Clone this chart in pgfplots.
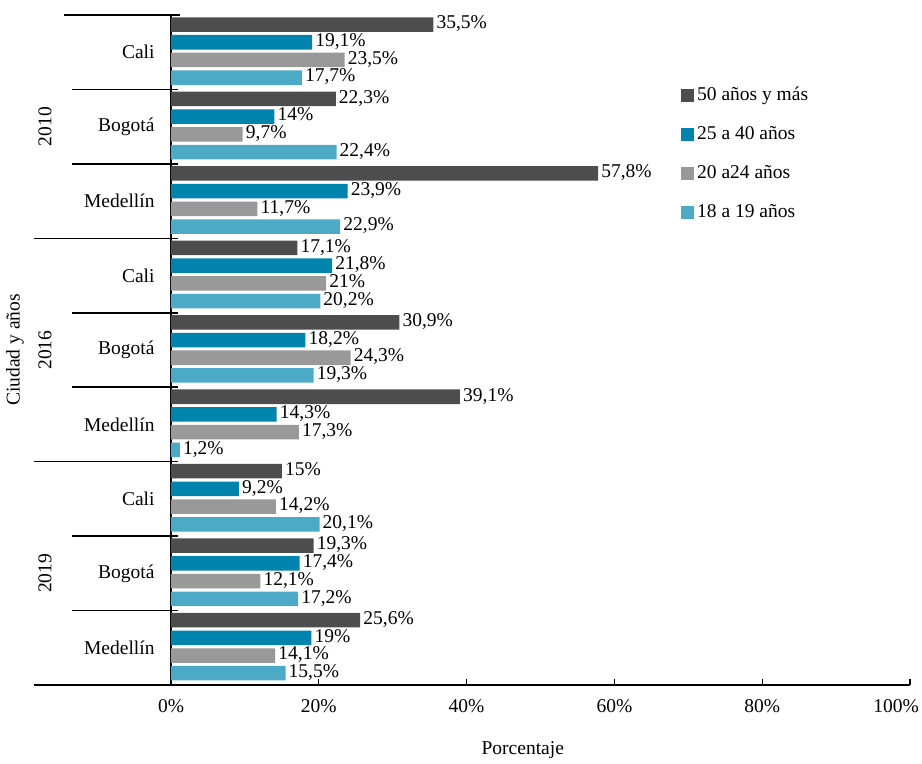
\documentclass[border=0pt]{standalone}
\usepackage{fontspec}
\setmainfont{Liberation Serif}
\usepackage{pgfplots}
\pgfplotsset{compat=1.18}
\definecolor{cA}{RGB}{77,77,77}
\definecolor{cB}{RGB}{0,131,173}
\definecolor{cC}{RGB}{153,153,153}
\definecolor{cD}{RGB}{77,170,199}
\begin{document}
\fontsize{19.5bp}{23bp}\selectfont
\begin{tikzpicture}
\useasboundingbox (-171bp,-79bp) rectangle (751bp,685bp);
\begin{axis}[
 at={(0,0)}, anchor=south west,
 scale only axis, width=739bp, height=670bp,
 xmin=0, xmax=100, ymin=0, ymax=9,
 axis x line=bottom, axis y line=left,
 axis line style={-, line width=1.6bp, black},
 x axis line style={-}, y axis line style={-},
 xtick={0,20,40,60,80},
 xticklabels={0\%,20\%,40\%,60\%,80\%},
 extra x ticks={100},
 extra x tick labels={100\%},
 extra x tick style={xticklabel style={xshift=-14bp}},
 ytick=\empty,
 tick align=inside,
 major tick length=6bp,
 tick style={line width=1.4bp, black},
 xticklabel style={yshift=-8bp},
 xbar, bar width=0.195,
 point meta=explicit symbolic,
 nodes near coords,
 every node near coord/.append style={anchor=west, black, inner xsep=3bp, inner ysep=0pt,
   text height=1.2ex, text depth=0.25ex},
 clip=false,
 legend cell align=left,
 legend style={at={(0.686,0.9)}, anchor=north west, draw=none, fill=none, row sep=17bp,
   nodes={inner sep=3bp}},
 legend image code/.code={\path[#1] (0bp,-6.5bp) rectangle (13bp,6.5bp);},
]
\addplot[fill=cA, draw=none, bar shift=0.372] coordinates {
 (35.5,8.5) [35,5\%] (22.3,7.5) [22,3\%] (57.8,6.5) [57,8\%]
 (17.1,5.5) [17,1\%] (30.9,4.5) [30,9\%] (39.1,3.5) [39,1\%]
 (15,2.5) [15\%] (19.3,1.5) [19,3\%] (25.6,0.5) [25,6\%]};
\addlegendentry{50 años y más}
\addplot[fill=cB, draw=none, bar shift=0.134] coordinates {
 (19.1,8.5) [19,1\%] (14,7.5) [14\%] (23.9,6.5) [23,9\%]
 (21.8,5.5) [21,8\%] (18.2,4.5) [18,2\%] (14.3,3.5) [14,3\%]
 (9.2,2.5) [9,2\%] (17.4,1.5) [17,4\%] (19,0.5) [19\%]};
\addlegendentry{25 a 40 años}
\addplot[fill=cC, draw=none, bar shift=-0.104] coordinates {
 (23.5,8.5) [23,5\%] (9.7,7.5) [9,7\%] (11.7,6.5) [11,7\%]
 (21,5.5) [21\%] (24.3,4.5) [24,3\%] (17.3,3.5) [17,3\%]
 (14.2,2.5) [14,2\%] (12.1,1.5) [12,1\%] (14.1,0.5) [14,1\%]};
\addlegendentry{20 a24 años}
\addplot[fill=cD, draw=none, bar shift=-0.342] coordinates {
 (17.7,8.5) [17,7\%] (22.4,7.5) [22,4\%] (22.9,6.5) [22,9\%]
 (20.2,5.5) [20,2\%] (19.3,4.5) [19,3\%] (1.2,3.5) [1,2\%]
 (20.1,2.5) [20,1\%] (17.2,1.5) [17,2\%] (15.5,0.5) [15,5\%]};
\addlegendentry{18 a 19 años}
% separators
\draw[line width=1.6bp] (axis cs:-14.5,9) -- (axis cs:1.2,9);
\draw[line width=1.6bp] (axis cs:-13.4,8) -- (axis cs:0.95,8);
\draw[line width=1.6bp] (axis cs:-13.4,7) -- (axis cs:0.95,7);
\draw[line width=1.6bp] (axis cs:-13.4,5) -- (axis cs:0.95,5);
\draw[line width=1.6bp] (axis cs:-13.4,4) -- (axis cs:0.95,4);
\draw[line width=1.6bp] (axis cs:-13.4,2) -- (axis cs:0.95,2);
\draw[line width=1.6bp] (axis cs:-13.4,1) -- (axis cs:0.95,1);
\draw[line width=1.6bp] (axis cs:-18.5,6) -- (axis cs:0.95,6);
\draw[line width=1.6bp] (axis cs:-18.5,3) -- (axis cs:0.95,3);
\draw[line width=1.6bp] (axis cs:-18.5,0) -- (axis cs:0,0);
% city labels
\node[anchor=east, inner sep=0pt] at (axis cs:-2.2,8.5) {Cali};
\node[anchor=east, inner sep=0pt] at (axis cs:-2.2,7.5) {Bogotá};
\node[anchor=east, inner sep=0pt] at (axis cs:-2.2,6.5) {Medellín};
\node[anchor=east, inner sep=0pt] at (axis cs:-2.2,5.5) {Cali};
\node[anchor=east, inner sep=0pt] at (axis cs:-2.2,4.5) {Bogotá};
\node[anchor=east, inner sep=0pt] at (axis cs:-2.2,3.5) {Medellín};
\node[anchor=east, inner sep=0pt] at (axis cs:-2.2,2.5) {Cali};
\node[anchor=east, inner sep=0pt] at (axis cs:-2.2,1.5) {Bogotá};
\node[anchor=east, inner sep=0pt] at (axis cs:-2.2,0.5) {Medellín};
% year labels
\node[rotate=90, inner sep=0pt] at (axis cs:-17.05,7.5) {2010};
\node[rotate=90, inner sep=0pt] at (axis cs:-17.05,4.5) {2016};
\node[rotate=90, inner sep=0pt] at (axis cs:-17.05,1.5) {2019};
\node[rotate=90, inner sep=0pt] at (axis cs:-21.1,4.5) {Ciudad y años};
\node[inner sep=0pt] at (axis cs:47.6,0) [yshift=-65bp] {Porcentaje};
\end{axis}
\end{tikzpicture}
\end{document}
